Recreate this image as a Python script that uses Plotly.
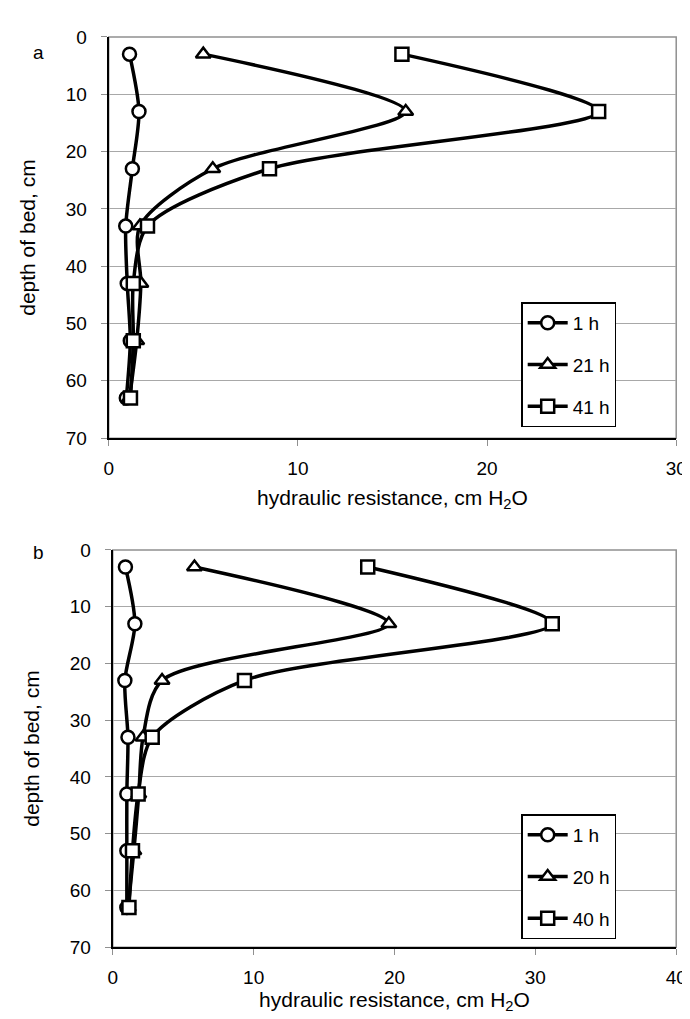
import plotly.graph_objects as go

depth = [3, 13, 23, 33, 43, 53, 63]

# panel a
a_1h = [1.1, 1.6, 1.25, 0.9, 0.98, 1.14, 0.93]
a_21h = [5.0, 15.7, 5.5, 1.65, 1.7, 1.48, 1.1]
a_41h = [15.5, 25.9, 8.5, 2.05, 1.3, 1.3, 1.15]
a_names = ["1 h", "21 h", "41 h"]

# panel b
b_1h = [0.9, 1.57, 0.86, 1.08, 1.0, 1.0, 1.0]
b_20h = [5.8, 19.6, 3.5, 2.15, 1.85, 1.5, 1.1]
b_40h = [18.1, 31.2, 9.35, 2.8, 1.8, 1.4, 1.15]
b_names = ["1 h", "20 h", "40 h"]

symbols = ["circle", "triangle-up", "square"]
FONT = "Liberation Sans, Arial"

fig = go.Figure()

def add(series, names, xa, ya, leg):
    for i, (vals, nm) in enumerate(zip(series, names)):
        fig.add_trace(go.Scatter(
            x=vals, y=depth, name=nm, mode="lines+markers",
            line=dict(color="black", width=3.5, shape="spline", smoothing=0.8),
            marker=dict(symbol=symbols[i], size=13, color="white",
                        line=dict(color="black", width=2.5)),
            xaxis=xa, yaxis=ya, legend=leg, legendgroup=leg + str(i)))

add([a_1h, a_21h, a_41h], a_names, "x", "y", "legend")
add([b_1h, b_20h, b_40h], b_names, "x2", "y2", "legend2")

tickfont = dict(family=FONT, size=19, color="black")
titlefont = dict(family=FONT, size=21, color="black")

def xax(dom, rng, anchor, standoff):
    return dict(domain=dom, range=rng, dtick=10, showgrid=False, zeroline=False,
                showline=True, linecolor="black", linewidth=2,
                ticks="outside", ticklen=6, tickcolor="#909090",
                ticklabelstandoff=6,
                tickfont=tickfont, anchor=anchor,
                title=dict(text="hydraulic resistance, cm H<sub>2</sub>O",
                           font=titlefont, standoff=standoff))

def yax(dom, anchor):
    return dict(domain=dom, range=[70, 0], dtick=10, showgrid=True,
                gridcolor="#a8a8a8", gridwidth=1, zeroline=False,
                showline=True, linecolor="black", linewidth=2,
                ticks="outside", ticklen=6, tickcolor="#909090",
                ticklabelstandoff=10,
                tickfont=tickfont, anchor=anchor,
                title=dict(text="depth of bed, cm", font=titlefont, standoff=24))

leg_common = dict(bgcolor="white", bordercolor="black", borderwidth=1.5,
                  font=dict(family=FONT, size=19, color="black"),
                  xanchor="left", yanchor="top", tracegroupgap=14,
                  itemwidth=40)

fig.update_layout(
    width=690, height=1019, margin=dict(l=0, r=0, t=0, b=0),
    paper_bgcolor="white", plot_bgcolor="white",
    xaxis=xax([0.142, 0.984], [0, 30], "y", 12),
    yaxis=yax([0.579, 0.981], "x"),
    xaxis2=xax([0.148, 0.984], [0, 40], "x2" and "y2", 5),
    yaxis2=yax([0.069, 0.467], "x2"),
    legend=dict(x=0.754, y=0.715, **leg_common),
    legend2=dict(x=0.754, y=0.202, **leg_common),
    shapes=[
        dict(type="rect", xref="x domain", yref="y domain", x0=0, x1=1, y0=0, y1=1,
             line=dict(color="#909090", width=1.5), layer="below"),
        dict(type="rect", xref="x2 domain", yref="y2 domain", x0=0, x1=1, y0=0, y1=1,
             line=dict(color="#909090", width=1.5), layer="below"),
    ],
    annotations=[
        dict(text="a", x=18 / 690, y=1 - 22 / 1019, xref="paper", yref="paper",
             showarrow=False, font=dict(family=FONT, size=19, color="black")),
        dict(text="b", x=18 / 690, y=1 - 546 / 1019, xref="paper", yref="paper",
             showarrow=False, font=dict(family=FONT, size=19, color="black")),
    ],
)

fig.write_html("out.html")
